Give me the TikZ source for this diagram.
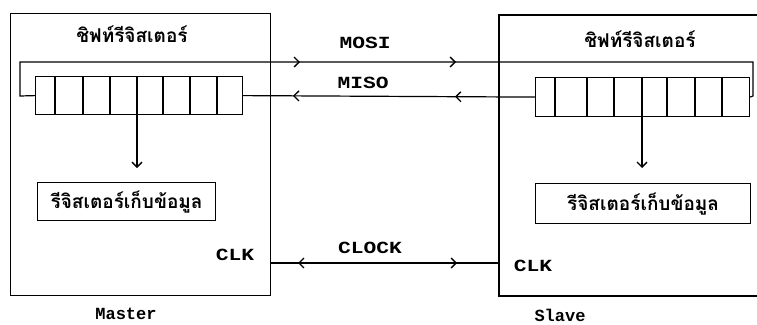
\documentclass[tikz,border=0pt]{standalone}
\usepackage{fontspec}
\setmonofont{Liberation Mono}
\newfontfamily\thaifont[Script=Thai]{Loma}
\usetikzlibrary{arrows.meta,decorations.markings}
\tikzset{
  box/.style={draw, line width=1.2pt, inner sep=0pt},
  wire/.style={line width=1.2pt},
  lbl/.style={font=\ttfamily\bfseries\fontsize{17}{17}\selectfont, inner sep=0pt},
  wlbl/.style={lbl, xscale=1.25, transform shape},
  ttl/.style={font=\thaifont\bfseries\fontsize{19}{19}\selectfont, inner sep=0pt},
  stor/.style={font=\thaifont\bfseries\fontsize{19}{19}\selectfont, inner sep=0pt},
  barb/.tip={Straight Barb[length=5pt,width=10pt,line width=1.3pt]},
  tip/.style={-barb},
}
\begin{document}
\begin{tikzpicture}[x=1pt,y=-1pt]
\useasboundingbox (0,0) rectangle (757,324);
% Master box
\node[box, minimum width=260pt, minimum height=282pt, anchor=north west] (mbox) at (10,13) {};
% Slave box (open on the right, cut by the picture edge)
\coordinate (stl) at (499,15);
\coordinate (sbl) at (499,296);
\coordinate (str) at (757,15);
\coordinate (sbr) at (757,296);
\draw[wire] (str) -- (stl) -- (sbl) -- (sbr);
\coordinate (swest) at (499,263);

% titles
\node[ttl] (mtitle) at (132,34) {ชิฟท์รีจิสเตอร์};
\node[ttl] (stitle) at (640,39) {ชิฟท์รีจิสเตอร์};

% registers
\node[box, minimum width=207pt, minimum height=38pt, anchor=north west] (mreg) at (35,76) {};
\node[box, minimum width=214pt, minimum height=39pt, anchor=north west] (sreg) at (535,77) {};
\foreach \x in {55,83,110,137,163,190,217}
  \draw[wire] (\x,76) -- (\x,114);
\foreach \x in {555,587,614,642,667,695,722}
  \draw[wire] (\x,77) -- (\x,116);
\coordinate (mdown) at (137,114);
\coordinate (sdown) at (642,116);

% storage registers
\node[box, minimum width=178pt, minimum height=38pt, anchor=north west] (mstor) at (37,182) {};
\node[stor] at (mstor.center) {รีจิสเตอร์เก็บข้อมูล};
\node[box, minimum width=215pt, minimum height=40pt, anchor=north west] (sstor) at (535,183) {};
\node[stor] at (sstor.center) {รีจิสเตอร์เก็บข้อมูล};

\draw[wire, tip] (mdown) -- (mdown |- 0,168);
\draw[wire, tip] (sdown) -- (sdown |- 0,168);

% MOSI loop
\coordinate (mloopA) at (20,96);
\coordinate (mloopB) at (20,62);
\coordinate (sloopA) at (753,62);
\coordinate (sloopB) at (753,96);
\draw[wire, decoration={markings,
   mark=at position 329pt with {\arrow{barb}},
   mark=at position 485pt with {\arrow{barb}}},
   postaction={decorate}]
  (mreg.west) -- (mloopA) -- (mloopB) -- (sloopA) -- (sloopB) -- (sreg.east);

% MISO
\draw[wire, decoration={markings,
   mark=at position 80pt with {\arrow{barb}},
   mark=at position 242pt with {\arrow{barb}}},
   postaction={decorate}]
  (sreg.west) -- (mreg.east);

% CLOCK
\coordinate (meast) at (270,263);
\draw[wire, decoration={markings,
   mark=at position 28pt with {\arrowreversed{barb}},
   mark=at position 187pt with {\arrow{barb}}},
   postaction={decorate}]
  (meast) -- (swest);

% labels
\node[wlbl] (mosi) at (365,43) {MOSI};
\node[wlbl] (miso) at (363,83) {MISO};
\node[wlbl] (clock) at (370,248) {CLOCK};
\node[wlbl] (mclk) at (235,255) {CLK};
\node[wlbl] (sclk) at (533,266) {CLK};
\node[lbl] (master) at (126,314) {Master};
\node[lbl] (slave) at (560,315) {Slave};
\end{tikzpicture}
\end{document}
